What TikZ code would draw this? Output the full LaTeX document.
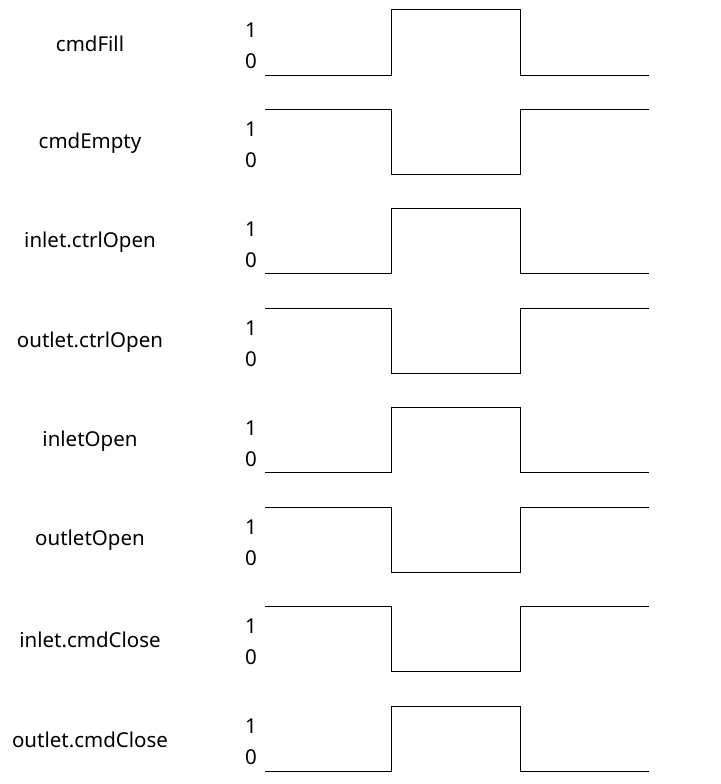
\documentclass[tikz,border=0pt]{standalone}
\usepackage{fontspec}
\setmainfont{Noto Sans}
\begin{document}
\begin{tikzpicture}[
  x=1pt, y=-1pt,
  font=\fontsize{20.5}{24}\selectfont,
  sig/.style={anchor=center, inner sep=0pt},
  lvl/.style={anchor=center, inner sep=0pt},
  wave/.style={draw=black, line width=1pt}
]
  \useasboundingbox (0,0) rectangle (720,784);
  \foreach \name/\inv [count=\i from 0] in {cmdFill/0, cmdEmpty/1, inlet.ctrlOpen/0,
      outlet.ctrlOpen/1, inletOpen/0, outletOpen/1, inlet.cmdClose/1, outlet.cmdClose/0} {
    \pgfmathsetmacro{\yt}{10+99.43*\i}
    \pgfmathsetmacro{\ya}{\yt+65*(1-\inv)}
    \pgfmathsetmacro{\yb}{\yt+65*\inv}
    \node[sig] (lab\i) at (90,\yt+33.5) {\name};
    \node[lvl] (one\i) at (251,\yt+20) {1};
    \node[lvl] (zero\i) at (251,\yt+51) {0};
    \draw[wave] (265,\ya) -- (391,\ya) -- (391,\yb) -- (520,\yb) -- (520,\ya) -- (649,\ya);
  }
\end{tikzpicture}
\end{document}
